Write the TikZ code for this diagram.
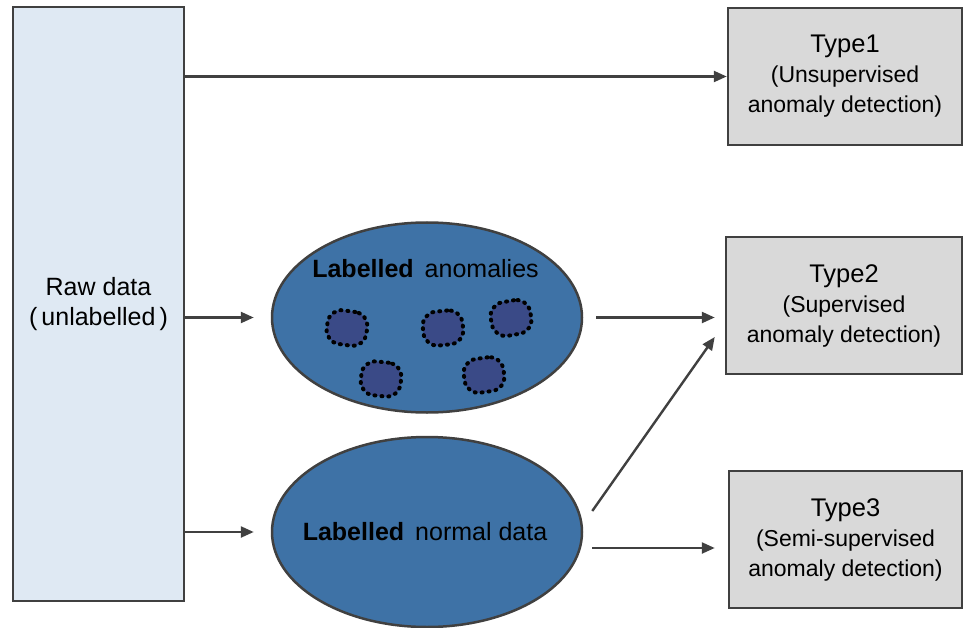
\documentclass[tikz,border=0pt]{standalone}
\usepackage{fontspec}
\setmainfont{Liberation Sans}
\usetikzlibrary{arrows.meta,shapes.geometric}
\definecolor{edgegray}{HTML}{404040}
\definecolor{rawfill}{HTML}{DFE9F3}
\definecolor{typefill}{HTML}{D9D9D9}
\definecolor{ellfill}{HTML}{3E72A6}
\definecolor{blobfill}{HTML}{3A4A87}
\begin{document}
\begin{tikzpicture}[x=1pt,y=-1pt,
  box/.style={draw=edgegray,line width=2.5pt,inner sep=0pt,align=center},
  rawbox/.style={box,fill=rawfill,minimum width=171pt,minimum height=594pt,font=\fontsize{25}{30}\selectfont},
  typebox/.style={box,fill=typefill,minimum height=137pt,font=\fontsize{23}{30}\selectfont},
  dataell/.style={ellipse,draw=edgegray,line width=2.5pt,fill=ellfill,minimum width=310pt,minimum height=190pt,inner sep=0pt},
  blob/.style={rectangle,rounded corners=14pt,draw=black,fill=blobfill,line width=4pt,dash pattern=on 1pt off 6pt,line cap=round,minimum width=40pt,minimum height=34pt,inner sep=0pt},
  ltext/.style={font=\fontsize{25}{30}\selectfont,inner sep=0pt},
  arr/.style={draw=edgegray,line width=2.4pt,-{Triangle[length=13pt,width=11pt]}}
]
\useasboundingbox (0,0) rectangle (963,628);

\node[rawbox] (raw) at (98.5,304) {Raw data\\(\,unlabelled\,)};

\node[typebox,minimum width=234pt] (t1) at (845,76.5) {{\fontsize{25.5}{30}\selectfont Type1}\\(Unsupervised\\anomaly detection)};
\node[typebox,minimum width=236pt] (t2) at (844,305.5) {{\fontsize{25.5}{30}\selectfont Type2}\\(Supervised\\anomaly detection)};
\node[typebox,minimum width=233pt] (t3) at (845.5,539.5) {{\fontsize{25.5}{30}\selectfont Type3}\\(Semi-supervised\\anomaly detection)};

\node[dataell] (ellA) at (427,317.5) {};
\node[dataell] (ellB) at (427,532) {};

\node[ltext] (lblA) at (425.5,269) {\textbf{Labelled}\hspace{11pt}anomalies};
\node[ltext] (lblB) at (425,532) {\textbf{Labelled}\hspace{11pt}normal data};

\node[blob,rotate=-8] (b1) at (347,328) {};
\node[blob,rotate=6] (b2) at (443,328) {};
\node[blob,rotate=10] (b3) at (511,318) {};
\node[blob,rotate=-6] (b4) at (381,379) {};
\node[blob,rotate=8] (b5) at (484,375) {};

\draw[arr] (raw.east |- t1.west) -- (t1.west);
\draw[arr,shorten >=17pt] (raw.east |- ellA.west) -- (ellA.west);
\draw[arr,shorten >=17pt] (raw.east |- ellB.west) -- (ellB.west);
\draw[arr,shorten <=13pt,shorten >=10pt] (ellA.east) -- (ellA.east -| t2.west);
\draw[arr] ([shift={(9,-21)}]ellB.east) -- ([shift={(-10,31.5)}]t2.west);
\draw[arr] ([shift={(9,16)}]ellB.east) -- ([shift={(-13,8.5)}]t3.west);
\end{tikzpicture}
\end{document}
